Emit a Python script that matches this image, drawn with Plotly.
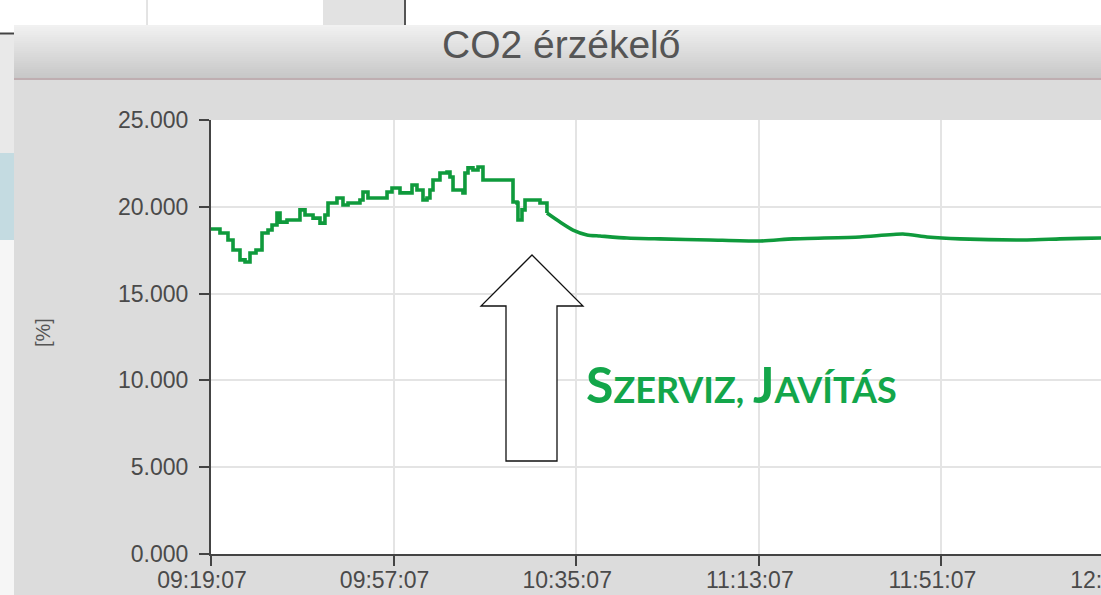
import plotly.graph_objects as go

# ---------------- data ----------------
times = [
    "09:19:07", "09:20:59", "09:22:39", "09:23:42", "09:25:09", "09:26:12", "09:27:14", "09:28:29",
    "09:29:44", "09:30:59", "09:31:49", "09:32:51", "09:33:29", "09:34:56", "09:37:01", "09:37:38",
    "09:38:41", "09:40:21", "09:41:48", "09:42:50", "09:43:28", "09:45:20", "09:46:35", "09:47:38",
    "09:50:07", "09:50:45", "09:51:47", "09:54:55", "09:55:45", "09:56:47", "09:58:27", "09:59:54",
    "10:00:57", "10:01:59", "10:03:14", "10:04:04", "10:04:41", "10:05:19", "10:06:46", "10:08:14",
    "10:08:51", "10:09:29", "10:11:33", "10:11:58", "10:12:36", "10:13:38", "10:14:41", "10:15:31",
    "10:15:43", "10:21:45", "10:21:58", "10:22:48", "10:23:00", "10:23:38", "10:23:50", "10:24:28",
    "10:26:08", "10:27:35", "10:29:02",
]
co2 = [
    18.72, 18.49, 18.09, 17.51, 16.94, 16.82, 17.34, 17.51,
    18.49, 18.66, 18.95, 19.64, 19.12, 19.24, 19.24, 19.82,
    19.53, 19.35, 19.06, 19.53, 20.22, 20.51, 20.10, 20.22,
    20.39, 20.85, 20.51, 20.51, 20.85, 21.08, 20.80, 20.80,
    21.26, 20.97, 20.39, 20.51, 20.97, 21.54, 21.95, 22.00,
    21.72, 20.97, 20.80, 21.95, 22.24, 22.12, 22.29, 22.29,
    21.54, 21.54, 20.28, 20.22, 19.24, 19.24, 19.82, 20.39,
    20.39, 20.22, 19.64,
]
# smooth settling part after the service
times_tail = [
    "10:29:02", "10:31:45", "10:34:27", "10:37:22", "10:40:04", "10:45:41", "10:52:33", "11:02:58",
    "11:13:22", "11:20:14", "11:34:10", "11:43:07", "11:48:07", "11:54:59", "12:08:56", "12:15:48",
    "12:24:20", "12:39:44",
]
co2_tail = [
    19.64, 19.12, 18.66, 18.38, 18.32, 18.20, 18.15, 18.09,
    18.03, 18.15, 18.26, 18.43, 18.26, 18.15, 18.09, 18.15,
    18.20, 18.20,
]
x_tick_labels = ["09:19:07", "09:57:07", "10:35:07", "11:13:07", "11:51:07", "12:29:07"]
y_tick_values = [0, 5, 10, 15, 20, 25]

DAY = "2024-01-01 "

# ---------------- layout geometry ----------------
W, H = 1175, 595
L, R, T, B = 211, 0, 120, 41
PW, PH = W - L - R, H - T - B


def X(px):
    return (px - L) / PW


def Y(py):
    return (H - B - py) / PH


LINE_COLOR = "#0f9a3c"
fig = go.Figure()
fig.add_trace(go.Scatter(
    x=[DAY + t for t in times], y=co2, mode="lines",
    line=dict(color=LINE_COLOR, width=3.6, shape="hv"),
    hoverinfo="skip", showlegend=False,
))
fig.add_trace(go.Scatter(
    x=[DAY + t for t in times_tail], y=co2_tail, mode="lines",
    line=dict(color=LINE_COLOR, width=3.6, shape="spline", smoothing=0.6),
    hoverinfo="skip", showlegend=False,
))

shapes = []


def rect(x0, y0, x1, y1, fill, layer="above"):
    shapes.append(dict(type="rect", xref="paper", yref="paper",
                       x0=X(x0), x1=X(x1), y0=Y(y1), y1=Y(y0),
                       fillcolor=fill, line=dict(width=0), layer=layer))


def hline(x0, x1, y, color, w):
    shapes.append(dict(type="line", xref="paper", yref="paper",
                       x0=X(x0), x1=X(x1), y0=Y(y), y1=Y(y),
                       line=dict(color=color, width=w)))


def vline(x, y0, y1, color, w):
    shapes.append(dict(type="line", xref="paper", yref="paper",
                       x0=X(x), x1=X(x), y0=Y(y0), y1=Y(y1),
                       line=dict(color=color, width=w)))


# top strip of the screenshot
rect(0, 0, W, 25, "#ffffff")
vline(147, 0, 25, "#c8c8c8", 1)
rect(323, 0, 404, 25, "#e2e2e2")
vline(405, 0, 25, "#555555", 2)

# left strip
rect(0, 25, 14, 33, "#ffffff")
rect(0, 34, 14, 153, "#e9e9e9")
hline(0, 14, 33.5, "#444444", 2)
rect(0, 153, 14, 240, "#c4dbe1")
rect(0, 240, 14, H, "#f6f6f6")

# title bar gradient
top_c = (241, 241, 241)
bot_c = (199, 199, 199)
n = 27
for i in range(n):
    f = i / (n - 1)
    c = tuple(round(top_c[k] + (bot_c[k] - top_c[k]) * f) for k in range(3))
    rect(14, 25 + i * 2, W, 25 + i * 2 + 2.2, "rgb(%d,%d,%d)" % c)
hline(14, W, 79, "#bfaeb1", 2)

# outlined arrow
pts = [(532, 255), (583, 306), (557, 306), (557, 461), (506, 461), (506, 306), (481, 306)]
path = "M " + " L ".join("%f,%f" % (X(a), Y(b)) for a, b in pts) + " Z"
shapes.append(dict(type="path", xref="paper", yref="paper", path=path,
                   fillcolor="#ffffff", line=dict(color="#111111", width=1.3), layer="above"))

annotations = [
    dict(text="CO2 érzékelő", xref="paper", yref="paper", x=X(561), y=Y(44),
         showarrow=False, xanchor="center", yanchor="middle",
         font=dict(family="Liberation Sans, Arial", size=39, color="#555555")),
    dict(text="[%]", xref="paper", yref="paper", x=X(43), y=Y(333),
         showarrow=False, xanchor="center", yanchor="middle", textangle=-90,
         font=dict(family="Liberation Sans, Arial", size=20, color="#555555")),
    dict(text="S<span style='font-size:36px'>ZERVIZ, </span>J<span style='font-size:36px'>AVÍTÁS</span>",
         xref="paper", yref="paper", x=X(584), y=Y(384),
         showarrow=False, xanchor="left", yanchor="middle",
         font=dict(family="Lato, Noto Sans", size=50, color="#13a64a", weight="bold")),
]

tick_font = dict(family="Liberation Sans, Arial", size=23, color="#4a4a4a")

fig.update_layout(
    width=W, height=H,
    margin=dict(l=L, r=R, t=T, b=B, pad=0, autoexpand=False),
    paper_bgcolor="#dcdcdc",
    plot_bgcolor="#ffffff",
    shapes=shapes,
    annotations=annotations,
    showlegend=False,
    xaxis=dict(
        type="date",
        range=[DAY + "09:19:07", DAY + "12:39:44"],
        tickmode="array",
        tickvals=[DAY + t for t in x_tick_labels],
        ticktext=x_tick_labels,
        ticks="outside", ticklen=10, tickwidth=2, tickcolor="#444444",
        showline=True, linecolor="#444444", linewidth=2,
        showgrid=True, gridcolor="#e4e4e4", gridwidth=2,
        zeroline=False, tickfont=tick_font,
        ticklabelstandoff=-6, ticklabelshift=-9,
        ticklabeloverflow="allow", automargin=False,
        fixedrange=True,
    ),
    yaxis=dict(
        range=[0, 25],
        tickmode="array", tickvals=y_tick_values,
        tickformat=".3f",
        ticks="outside", ticklen=10, tickwidth=2, tickcolor="#444444",
        showline=True, linecolor="#444444", linewidth=2,
        showgrid=True, gridcolor="#e4e4e4", gridwidth=2,
        zeroline=False, tickfont=tick_font, ticklabelstandoff=6,
        automargin=False,
        fixedrange=True,
    ),
)

fig.write_html(
    "out.html",
    config={"displayModeBar": False},
    post_script="document.body.style.margin='0';document.body.style.overflow='hidden';"
                "document.documentElement.style.overflow='hidden';",
)
